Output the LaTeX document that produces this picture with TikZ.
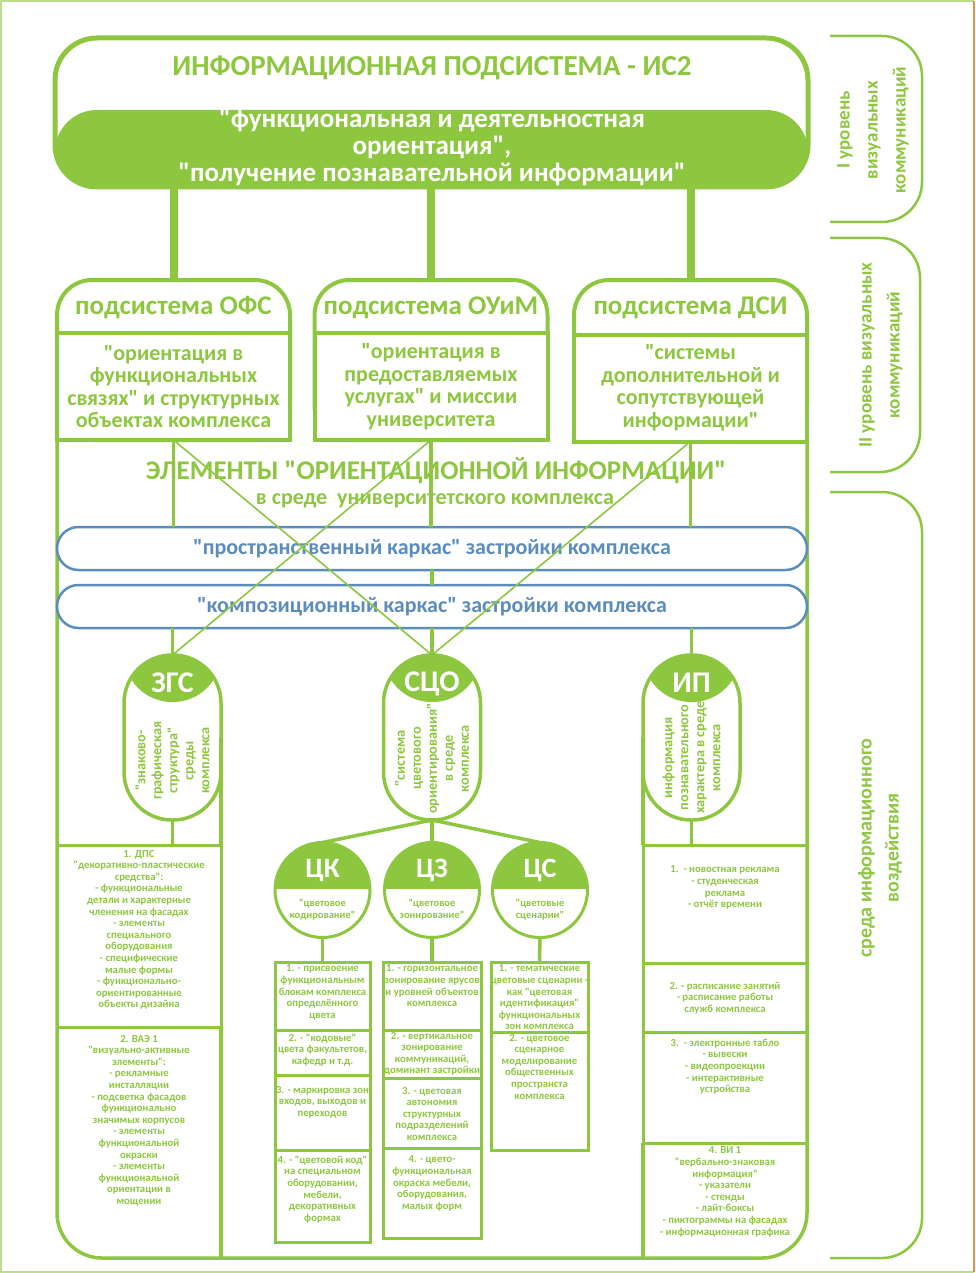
\documentclass[tikz,border=0pt]{standalone}
\usepackage{fontspec}
\setmainfont{Carlito}[Ligatures=TeXOff]
\usetikzlibrary{positioning}
\definecolor{leaf}{HTML}{8DC63F}
\definecolor{sky}{HTML}{5A8DBE}
\definecolor{rust}{HTML}{D9955A}
\begin{document}
\begin{tikzpicture}[
  x=1pt, y=-1pt,
  every node/.style={font=\bfseries, text=leaf, align=center, inner sep=0pt, outer sep=0pt},
  bar/.style={draw=leaf, line width=8pt},
  rail/.style={draw=leaf, line width=3.5pt},
  thinline/.style={draw=leaf, line width=1.6pt},
  headbox/.style={draw=leaf, line width=5pt, rounded corners=42pt, minimum width=753pt, minimum height=149pt,
    path picture={\fill[leaf] (path picture bounding box.south west) rectangle ([yshift=77pt]path picture bounding box.south east);}},
  sysbox/.style={draw=leaf, line width=4pt, rounded corners=35pt, minimum width=233pt, minimum height=160pt},
  sysbody/.style={draw=leaf, fill=white, line width=4pt, minimum width=233pt, minimum height=107pt,
    font=\bfseries\fontsize{22}{22.5}\selectfont},
  syshead/.style={font=\bfseries\fontsize{27}{28}\selectfont},
  ribbon/.style={draw=sky, fill=white, line width=2.5pt, rounded corners=21.5pt, minimum width=750pt, minimum height=43pt,
    text=sky, font=\bfseries\fontsize{22}{24}\selectfont},
  capsule/.style={draw=leaf, fill=white, line width=3.5pt, rounded corners=48pt, minimum width=97pt, minimum height=165pt,
    path picture={\fill[leaf] (path picture bounding box.north west) rectangle ([yshift=-47pt]path picture bounding box.north east);}},
  caplabel/.style={text=white, font=\bfseries\fontsize{30}{32}\selectfont},
  captext/.style={rotate=90, font=\bfseries\fontsize{14.3}{16}\selectfont},
  disc/.style={circle, draw=leaf, fill=white, line width=3pt, minimum size=95pt,
    path picture={\fill[leaf] (path picture bounding box.north west) rectangle ([yshift=-46pt]path picture bounding box.north east);}},
  disclabel/.style={text=white, font=\bfseries\fontsize{28}{30}\selectfont},
  disctext/.style={font=\bfseries\fontsize{10.5}{12}\selectfont},
  cell/.style={draw=leaf, line width=3pt, minimum width=95pt},
  celltext/.style={font=\bfseries\fontsize{10.7}{11.6}\selectfont},
  levelbox/.style={draw=leaf, line width=2.5pt, rounded corners=40pt},
  leveltext/.style={rotate=90, font=\bfseries\fontsize{19}{28}\selectfont}
]
\useasboundingbox (0,0) rectangle (975,1273);
\draw[leaf!60, line width=1.5pt] (974,1272) -- (1,1272) -- (1,1) -- (974,1);
\draw[rust, line width=1.5pt] (974,1) -- (974,1272);

\node[headbox] (ic2) at (431.5,112.5) {};
\node[font=\bfseries\fontsize{29}{30}\selectfont] (ic2title) at (432,68) {ИНФОРМАЦИОННАЯ ПОДСИСТЕМА - ИС2};
\node[text=white, font=\bfseries\fontsize{27}{27}\selectfont] (ic2aim) at (432,147)
  {"функциональная и деятельностная\\ориентация",\\"получение познавательной информации"};

\node[sysbox] (ofs) at (173.5,360) {};
\node[sysbox] (oum) at (431,360) {};
\node[sysbox] (dsi) at (690.5,360) {};
\node[sysbody] (ofsbody) at (173.5,386.5) {"ориентация в\\функциональных\\связях" и структурных\\объектах комплекса};
\node[sysbody] (oumbody) at (431,386.5) {"ориентация в\\предоставляемых\\услугах" и миссии\\университета};
\node[sysbody] (dsibody) at (690.5,388) {"системы\\дополнительной и\\сопутствующей\\информации"};
\node[syshead] (ofshead) at (173.5,308) {подсистема ОФС};
\node[syshead] (oumhead) at (431,308) {подсистема ОУиМ};
\node[syshead] (dsihead) at (690.5,308) {подсистема ДСИ};
\draw[bar] (ofs.north |- ic2.south) -- (ofs.north);
\draw[bar] (oum.north |- ic2.south) -- (oum.north);
\draw[bar] (dsi.north |- ic2.south) -- (dsi.north);

\draw[rail, rounded corners=45pt] (ofsbody.south west) |- (dsibody.south east |- 0,1258) -- (dsibody.south east);

\node[ribbon] (spatial) at (432,548.5) {"пространственный каркас" застройки комплекса};
\node[ribbon, below=15pt of spatial] (compos) {"композиционный каркас" застройки комплекса};

\node[capsule] (zgs) at (172.5,737.5) {};
\node[capsule] (sco) at (432,737.5) {};
\node[capsule] (ip) at (691.5,737.5) {};
\node[caplabel] (zgslabel) at ([yshift=-28pt]zgs.north) {ЗГС};
\node[caplabel] (scolabel) at ([yshift=-29pt]sco.north) {СЦО};
\node[caplabel] (iplabel) at ([yshift=-28pt]ip.north) {ИП};
\node[captext] (zgstext) at ([yshift=-23pt]zgs.center) {"знаково-\\графическая\\структура"\\среды\\комплекса};
\node[captext] (scotext) at ([yshift=-21pt]sco.center) {"система\\цветового\\ориентирования"\\в среде\\комплекса};
\node[captext] (iptext) at ([yshift=-20pt]ip.center) {информация\\познавательного\\характера в среде\\комплекса};

\draw[rail] (ofsbody.south) -- (ofsbody.south |- spatial.north);
\draw[rail] (oumbody.south) -- (oumbody.south |- spatial.north);
\draw[rail] (dsibody.south) -- (dsibody.south |- spatial.north);
\draw[rail] (spatial.south) -- (compos.north);
\draw[rail] (zgs.north |- compos.south) -- (zgs.north);
\draw[rail] (sco.north |- compos.south) -- (sco.north);
\draw[rail] (ip.north |- compos.south) -- (ip.north);

\node[font=\bfseries\fontsize{27}{30}\selectfont] (elements) at (436,471) {ЭЛЕМЕНТЫ "ОРИЕНТАЦИОННОЙ ИНФОРМАЦИИ"};
\node[font=\bfseries\fontsize{22}{24}\selectfont] (medium) at (435,501) {в среде\ \ университетского комплекса};

\draw[thinline] (ofsbody.south) -- (sco.north);
\draw[thinline] (oumbody.south) -- (zgs.north);
\draw[thinline] (dsibody.south) -- (sco.north);

\node[disc] (ck) at (322.5,890) {};
\node[disc] (cz) at (432,890) {};
\node[disc] (cs) at (540,890) {};
\node[disclabel] (cklabel) at ([yshift=-28pt]ck.north) {ЦК};
\node[disclabel] (czlabel) at ([yshift=-28pt]cz.north) {ЦЗ};
\node[disclabel] (cslabel) at ([yshift=-28pt]cs.north) {ЦС};
\node[disctext] (cktext) at ([yshift=-20pt]ck.center) {"цветовое\\кодирование"};
\node[disctext] (cztext) at ([yshift=-20pt]cz.center) {"цветовое\\зонирование"};
\node[disctext] (cstext) at ([yshift=-20pt]cs.center) {"цветовые\\сценарии"};
\draw[rail] (sco.south) -- (ck.north);
\draw[rail] (sco.south) -- (cz.north);
\draw[rail] (sco.south) -- (cs.north);

\node[cell, minimum height=68pt] (ck1) at (322.5,996) {};
\node[cell, minimum height=45pt, below=0pt of ck1] (ck2) {};
\node[cell, minimum height=75pt, below=0pt of ck2] (ck3) {};
\node[cell, minimum height=92pt, below=0pt of ck3] (ck4) {};
\node[celltext, below=3pt of ck1.north] {1. - присвоение\\функциональным\\блокам комплекса\\определённого\\цвета};
\node[celltext, below=4pt of ck2.north] {2. - "кодовые"\\цвета факультетов,\\кафедр и т.д.};
\node[celltext, below=11pt of ck3.north] {3. - маркировка зон\\входов, выходов и\\переходов};
\node[celltext, below=6pt of ck4.north] {4. - "цветовой код"\\на специальном\\оборудовании,\\мебели,\\декоративных\\формах};

\node[cell, minimum width=98pt, minimum height=68pt] (cz1) at (432,996) {};
\node[cell, minimum width=98pt, minimum height=48pt, below=0pt of cz1] (cz2) {};
\node[cell, minimum width=98pt, minimum height=70pt, below=0pt of cz2] (cz3) {};
\node[cell, minimum width=98pt, minimum height=90pt, below=0pt of cz3] (cz4) {};
\node[celltext, below=3pt of cz1.north] {1. - горизонтальное\\зонирование ярусов\\и уровней объектов\\комплекса};
\node[celltext, below=2pt of cz2.north] {2. - вертикальное\\зонирование\\коммуникаций,\\доминант застройки};
\node[celltext, below=9pt of cz3.north] {3. - цветовая\\автономия\\структурных\\подразделений\\комплекса};
\node[celltext, below=8pt of cz4.north] {4. - цвето-\\функциональная\\окраска мебели,\\оборудования,\\малых форм};

\node[cell, minimum width=97pt, minimum height=70pt] (cs1) at (539.5,997) {};
\node[cell, minimum width=97pt, minimum height=118pt, below=0pt of cs1] (cs2) {};
\node[celltext, below=3pt of cs1.north] {1. - тематические\\цветовые сценарии -\\как "цветовая\\идентификация"\\функциональных\\зон комплекса};
\node[celltext, below=2pt of cs2.north] {2. - цветовое\\сценарное\\моделирование\\общественных\\пространста\\комплекса};
\draw[rail] (ck.south) -- (ck1.north);
\draw[rail] (cz.south) -- (cz1.north);
\draw[rail] (cs.south) -- (cs1.north);

\node[cell, minimum width=164pt, minimum height=182pt] (dps) at (139,936) {};
\node[minimum width=164pt, minimum height=231pt, below=0pt of dps] (vae) {};
\draw[rail] (vae.north east) -- (vae.south east);
\node[celltext, below=5pt of dps.north] {1. ДПС\\"декоративно-пластические\\средства":\\- функциональные\\детали и характерные\\членения на фасадах\\- элементы\\специального\\оборудования\\- специфические\\малые формы\\- функционально-\\ориентированные\\объекты дизайна};
\node[celltext, below=8pt of vae.north] {2. ВАЭ 1\\"визуально-активные\\элементы":\\- рекламные\\инсталляции\\- подсветка фасадов\\функционально\\значимых корпусов\\- элементы\\функциональной\\окраски\\- элементы\\функциональной\\ориентации в\\мощении};
\draw[rail] (zgs.south) -- (zgs.south |- dps.north);
\draw[rail] (zgs.east) -- (zgs.east |- dps.north);

\node[cell, minimum width=164pt, minimum height=118pt] (ipnews) at (725,904) {};
\node[cell, minimum width=164pt, minimum height=69pt, below=0pt of ipnews] (ipsched) {};
\node[cell, minimum width=164pt, minimum height=111pt, below=0pt of ipsched] (ipscreen) {};
\node[minimum width=164pt, minimum height=115pt, below=0pt of ipscreen] (ipsign) {};
\draw[rail] (ipsign.north west) -- (ipsign.south west);
\node[celltext, below=21pt of ipnews.north] {1.\ \ - новостная реклама\\- студенческая\\реклама\\- отчёт времени};
\node[celltext, below=19pt of ipsched.north] {2. - расписание занятий\\- расписание работы\\служб комплекса};
\node[celltext, below=7pt of ipscreen.north] {3.\ \ - электронные табло\\- вывески\\- видеопроекции\\- интерактивные\\устройства};
\node[celltext, below=4pt of ipsign.north] {4. ВИ 1\\"вербально-знаковая\\информация"\\- указатели\\- стенды\\- лайт-боксы\\- пиктограммы на фасадах\\- информационная графика};
\draw[rail] (ip.south) -- (ip.south |- ipnews.north);
\draw[rail] (ip.west) -- (ip.west |- ipnews.north);

\draw[levelbox] (830,36) -- (922,36) -- (922,222) -- (830,222);
\draw[levelbox] (830,238) -- (920,238) -- (920,472) -- (830,472);
\draw[levelbox] (830,492) -- (922,492) -- (922,1258) -- (830,1258);
\node[leveltext] (level1) at (873,130) {I уровень\\визуальных\\коммуникаций};
\node[leveltext] (level2) at (881,355) {II уровень визуальных\\коммуникаций};
\node[leveltext, font=\bfseries\fontsize{20}{27}\selectfont] (level3) at (880,848) {среда информационного\\воздействия};
\end{tikzpicture}
\end{document}
